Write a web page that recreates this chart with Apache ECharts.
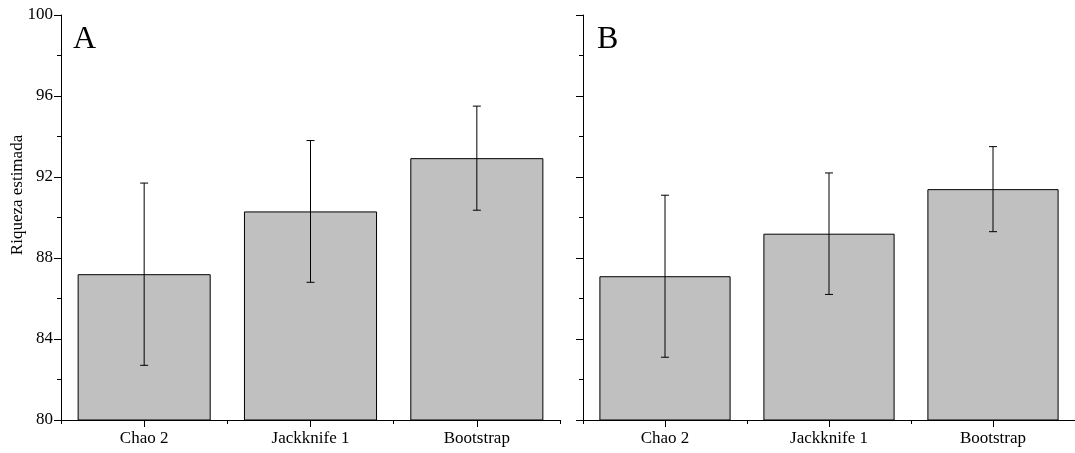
<!DOCTYPE html>
<html>
<head>
<meta charset="utf-8">
<script src="https://cdn.jsdelivr.net/npm/echarts@6/dist/echarts.min.js"></script>
<style>html,body{margin:0;padding:0;background:#fff}#c{width:1075px;height:453px}</style>
</head>
<body>
<div id="c"></div>
<script>
var categories = ['Chao 2', 'Jackknife 1', 'Bootstrap'];
var meansA = [87.2, 90.3, 92.93];
var errA = [4.5, 3.5, 2.57];
var meansB = [87.1, 89.2, 91.4];
var errB = [4.0, 3.0, 2.1];
var yTicks = { min: 80, max: 100, interval: 4 };
var panelLabels = ['A', 'B'];
var yTitle = 'Riqueza estimada';

var FONT = '"Liberation Serif", "DejaVu Serif", serif';
var chart = echarts.init(document.getElementById('c'));

function errData(means, errs) {
  return means.map(function (m, i) { return [i, m - errs[i], m + errs[i]]; });
}
function errRender(params, api) {
  var x = api.value(0);
  var lo = api.coord([x, api.value(1)]);
  var hi = api.coord([x, api.value(2)]);
  var cap = 4;
  var st = { stroke: '#000', lineWidth: 1 };
  return {
    type: 'group',
    children: [
      { type: 'line', shape: { x1: hi[0], y1: hi[1], x2: lo[0], y2: lo[1] }, style: st },
      { type: 'line', shape: { x1: hi[0] - cap, y1: hi[1], x2: hi[0] + cap, y2: hi[1] }, style: st },
      { type: 'line', shape: { x1: lo[0] - cap, y1: lo[1], x2: lo[0] + cap, y2: lo[1] }, style: st }
    ]
  };
}

var grids = [
  { left: 61, top: 15, width: 499, height: 405 },
  { left: 583, top: 15, width: 498, height: 405 }
];

var xAxes = [], yAxes = [], series = [];
[meansA, meansB].forEach(function (means, g) {
  xAxes.push({
    type: 'category', gridIndex: g, data: categories, boundaryGap: true,
    axisLine: { lineStyle: { color: '#000', width: 1 } },
    axisTick: { show: true, inside: false, alignWithLabel: true, length: 7, lineStyle: { color: '#000', width: 1 } },
    axisLabel: { color: '#000', fontFamily: FONT, fontSize: 17, margin: 10 }
  });
  xAxes.push({
    type: 'category', gridIndex: g, data: categories, boundaryGap: true, position: 'bottom',
    axisLine: { show: true, lineStyle: { color: '#000', width: 1 } },
    axisTick: { show: true, inside: false, alignWithLabel: false, length: 4, lineStyle: { color: '#000', width: 1 } },
    axisLabel: { show: false }
  });
  yAxes.push({
    type: 'value', gridIndex: g, min: yTicks.min, max: yTicks.max, interval: yTicks.interval,
    axisLine: { show: true, lineStyle: { color: '#000', width: 1 } },
    axisTick: { show: true, length: 7, lineStyle: { color: '#000' } },
    minorTick: { show: true, splitNumber: 2, length: 4, lineStyle: { color: '#000' } },
    splitLine: { show: false },
    axisLabel: { show: g === 0, color: '#000', fontFamily: FONT, fontSize: 17, margin: 8 }
  });
  series.push({
    type: 'bar', xAxisIndex: g * 2, yAxisIndex: g, data: means,
    barCategoryGap: '20%',
    itemStyle: { color: '#c0c0c0', borderColor: '#000', borderWidth: 1 },
    silent: true
  });
  series.push({
    type: 'custom', xAxisIndex: g * 2, yAxisIndex: g,
    data: errData(means, g === 0 ? errA : errB),
    renderItem: errRender, z: 10, silent: true
  });
});

chart.setOption({
  animation: false,
  grid: grids,
  xAxis: xAxes,
  yAxis: yAxes,
  series: series,
  graphic: [
    { type: 'text', left: 73, top: 24, style: { text: panelLabels[0], font: '32px ' + FONT, fill: '#000' } },
    { type: 'text', left: 597, top: 24, style: { text: panelLabels[1], font: '32px ' + FONT, fill: '#000' } },
    { type: 'text', x: 18, y: 195, rotation: Math.PI / 2,
      style: { text: yTitle, font: '17px ' + FONT, fill: '#000', align: 'center', verticalAlign: 'middle' } }
  ]
});
</script>
</body>
</html>
